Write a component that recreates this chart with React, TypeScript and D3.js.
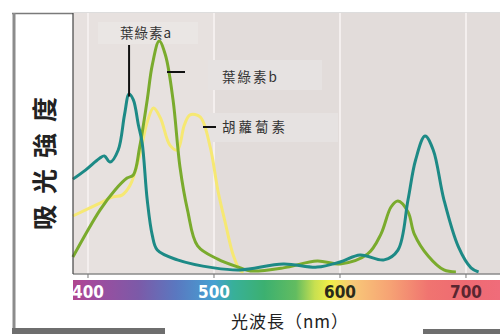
import * as d3 from "d3";
import React, { useEffect, useRef } from "react";

// wavelength (nm) / relative absorbance (0-100)
const chlA: [number, number][] = [
  [388, 36], [398, 39.5], [409, 44], [413, 45], [417.5, 42.6], [424, 47.3],
  [429, 61], [432.6, 69], [436, 66.7], [440, 57], [443, 50], [447, 28],
  [451, 14.3], [455, 8.5], [471, 4.7], [500, 1.6], [521, 0.8], [555, 3.1],
  [582, 1.9], [600, 3.9], [616, 6.6], [635, 4.7], [646, 8.5], [654, 28],
  [660, 43.4], [667.5, 52.7], [674, 47.3], [682.5, 28], [694, 9.7],
  [704, 1.6], [710, 0],
];

const chlB: [number, number][] = [
  [388, 5.8], [409.5, 24], [421.5, 31.8], [431, 36.4], [436, 37.6],
  [441, 48.4], [447, 66.7], [451, 80.2], [456.5, 89.5], [461.5, 84],
  [467.5, 66.7], [473, 40.7], [479, 24], [487, 10.1], [503, 5], [521, 1.6],
  [529, 0.4], [555, 1.6], [582, 4.3], [600, 3.1], [622, 7], [632.5, 14.7],
  [640.5, 25.2], [646, 27.5], [654, 23.3], [659, 14.7], [670, 6.2],
  [682.5, 0.8], [692, 0],
];

const carotene: [number, number][] = [
  [388, 21.7], [409.5, 26.7], [420, 29.1], [427, 29.8], [433.5, 33.7],
  [441, 45.3], [447, 58.1], [452, 63.6], [457.5, 59.7], [465, 49.2],
  [471, 47.3], [476.5, 57], [481, 60.9], [489, 60.1], [497, 48.4],
  [503, 31.8], [509, 19], [515.5, 6.2], [521, 0.4], [523.5, 0],
];

const ticks = [400, 500, 600, 700];
const spectrumStops: [number, string][] = [
  [388, "#b0468f"], [400, "#a44a9c"], [440, "#7c5aa8"], [470, "#5a78c0"],
  [500, "#46a0d2"], [515, "#38b09a"], [540, "#3cb070"], [565, "#62bc60"],
  [580, "#c8e050"], [592, "#f2ee48"], [610, "#f8c878"], [640, "#f6a274"],
  [670, "#f07470"], [700, "#ee6a72"], [727, "#f06c7a"],
];

export default function App() {
  const ref = useRef<SVGSVGElement>(null);

  useEffect(() => {
    const svg = d3.select(ref.current);
    svg.selectAll("*").remove();

    const left = 73, right = 500, top = 13, base = 272;
    const x = d3.scaleLinear().domain([388.1, 727]).range([left, right]);
    const y = d3.scaleLinear().domain([0, 100]).range([base, 14]);

    // frame
    svg.append("rect").attr("x", 14).attr("y", 13).attr("width", 486).attr("height", 316).attr("fill", "#fff");
    svg.append("line").attr("x1", 12).attr("x2", 500).attr("y1", 13.5).attr("y2", 13.5)
      .attr("stroke", "#7a7a7a").attr("stroke-width", 1.5);
    svg.append("line").attr("x1", 14).attr("x2", 14).attr("y1", 13).attr("y2", 330)
      .attr("stroke", "#8c8c8c").attr("stroke-width", 3);
    svg.append("rect").attr("x", 12).attr("y", 328).attr("width", 153).attr("height", 6).attr("fill", "#6e6e6e");
    svg.append("rect").attr("x", 423).attr("y", 329).attr("width", 77).attr("height", 5).attr("fill", "#6e6e6e");

    // plot background
    svg.append("rect").attr("x", left).attr("y", top).attr("width", right - left).attr("height", 261)
      .attr("fill", "#e2dcda");
    svg.append("rect").attr("x", left).attr("y", top).attr("width", x(500) - left).attr("height", 261)
      .attr("fill", "#e7e1df");

    svg.selectAll(".grid").data(ticks).enter().append("line")
      .attr("x1", (d) => x(d)).attr("x2", (d) => x(d)).attr("y1", top).attr("y2", 274)
      .attr("stroke", "#f4efee").attr("stroke-width", 2);

    // label boxes
    svg.append("rect").attr("x", 98).attr("y", 22).attr("width", 100).attr("height", 22).attr("fill", "#eae6e4");
    svg.append("rect").attr("x", 208).attr("y", 60).attr("width", 114).attr("height", 30).attr("fill", "#e6e2e1");
    svg.append("rect").attr("x", 205).attr("y", 113).attr("width", 133).attr("height", 29).attr("fill", "#e6e2e1");

    const line = d3.line<[number, number]>()
      .x((d) => x(d[0])).y((d) => y(d[1]))
      .curve(d3.curveCatmullRom.alpha(0.5));

    const series: [[number, number][], string][] = [
      [carotene, "#f6e873"],
      [chlB, "#7aab2d"],
      [chlA, "#1d8a86"],
    ];
    series.forEach(([data, color]) => {
      svg.append("path").datum(data).attr("d", line).attr("fill", "none")
        .attr("stroke", color).attr("stroke-width", 3).attr("stroke-linejoin", "round");
    });

    // axes
    svg.append("line").attr("x1", left).attr("x2", right).attr("y1", 274).attr("y2", 274)
      .attr("stroke", "#8a8a8a").attr("stroke-width", 1.5);
    svg.append("line").attr("x1", left).attr("x2", left).attr("y1", top).attr("y2", 274)
      .attr("stroke", "#444").attr("stroke-width", 1.2);
    svg.selectAll(".tick").data(ticks).enter().append("line")
      .attr("x1", (d) => x(d)).attr("x2", (d) => x(d)).attr("y1", 274).attr("y2", 278)
      .attr("stroke", "#777").attr("stroke-width", 1);

    // spectrum bar
    const grad = svg.append("defs").append("linearGradient").attr("id", "spec")
      .attr("x1", "0%").attr("x2", "100%");
    const sx = d3.scaleLinear().domain([388.1, 727]).range([0, 100]);
    spectrumStops.forEach(([w, c]) => {
      grad.append("stop").attr("offset", `${sx(w)}%`).attr("stop-color", c);
    });
    svg.append("rect").attr("x", left).attr("y", 280).attr("width", right - left).attr("height", 20)
      .attr("fill", "url(#spec)");
    svg.selectAll(".tl").data(ticks).enter().append("text")
      .attr("x", (d) => x(d)).attr("y", 297.5).attr("text-anchor", "middle")
      .attr("font-family", "DejaVu Sans Condensed, DejaVu Sans").attr("font-size", 17)
      .attr("font-weight", "bold")
      .attr("fill", (d) => (d < 600 ? "#ffffff" : d === 600 ? "#2a2a1a" : "#5a2630"))
      .text((d) => d);

    const cjk = "Noto Sans CJK TC";
    // series labels with leaders
    svg.append("line").attr("x1", x(432.6)).attr("x2", x(432.6)).attr("y1", 45).attr("y2", y(68))
      .attr("stroke", "#111").attr("stroke-width", 2);
    svg.append("text").attr("x", 146).attr("y", 38).attr("text-anchor", "middle")
      .attr("font-family", cjk).attr("font-size", 13.5).attr("fill", "#333").attr("letter-spacing", 1).text("葉綠素a");

    svg.append("line").attr("x1", 167).attr("x2", 185).attr("y1", 72).attr("y2", 72)
      .attr("stroke", "#111").attr("stroke-width", 2);
    svg.append("text").attr("x", 222).attr("y", 82)
      .attr("font-family", cjk).attr("font-size", 13.5).attr("fill", "#333").attr("letter-spacing", 2).text("葉綠素b");

    svg.append("line").attr("x1", 203).attr("x2", 216).attr("y1", 127).attr("y2", 127)
      .attr("stroke", "#111").attr("stroke-width", 2);
    svg.append("text").attr("x", 222).attr("y", 132)
      .attr("font-family", cjk).attr("font-size", 13.5).attr("fill", "#333").attr("letter-spacing", 3).text("胡蘿蔔素");

    // axis titles
    svg.append("text").attr("transform", "translate(54,158) rotate(-90)").attr("text-anchor", "middle")
      .attr("font-family", cjk).attr("font-size", 25).attr("font-weight", "bold").attr("fill", "#222")
      .attr("letter-spacing", 11).text("吸光強度");
    svg.append("text").attr("x", 290).attr("y", 328).attr("text-anchor", "middle")
      .attr("font-family", cjk).attr("font-size", 17).attr("fill", "#222").attr("letter-spacing", 1).text("光波長（nm）");
  }, []);

  return (
    <svg ref={ref} width={500} height={334}
      style={{ position: "absolute", left: 0, top: 0, background: "#fff" }} />
  );
}
